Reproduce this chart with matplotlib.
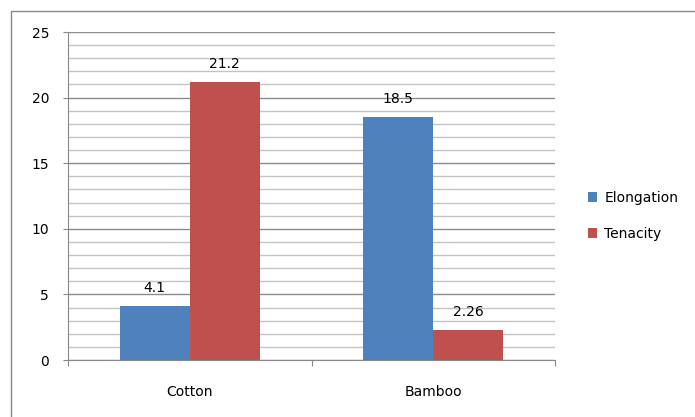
import matplotlib.pyplot as plt
import numpy as np
from matplotlib.patches import Rectangle
from matplotlib.ticker import MultipleLocator, FixedLocator

categories = ['Cotton', 'Bamboo']
series_names = ['Elongation', 'Tenacity']
elongation = [4.1, 18.5]
tenacity = [21.2, 2.26]
labels_elong = ['4.1', '18.5']
labels_ten = ['21.2', '2.26']

blue = '#4F81BD'
red = '#C0504D'
fs = 10

fig = plt.figure(figsize=(6.95, 4.17), dpi=100)
ax = fig.add_axes([68/695, 1-360/417, (555-68)/695, (360-32)/417])

# outer chart border
fig.patches.append(Rectangle((11/695, -0.1), 1.0, 1.0 + 0.1 - 11/417, transform=fig.transFigure,
                             fill=False, edgecolor='#888888', linewidth=1.0))

x = np.arange(len(categories))
w = 0.287
b1 = ax.bar(x - w/2, elongation, w, color=blue, label=series_names[0], zorder=3)
b2 = ax.bar(x + w/2, tenacity, w, color=red, label=series_names[1], zorder=3)
ax.bar_label(b1, labels=labels_elong, padding=8, fontsize=fs)
ax.bar_label(b2, labels=labels_ten, padding=8, fontsize=fs)

ax.set_xlim(-0.5, 1.5)
ax.set_ylim(0, 25)
ax.yaxis.set_major_locator(MultipleLocator(5))
ax.yaxis.set_minor_locator(MultipleLocator(1))
ax.grid(axis='y', which='major', color='#8c8c8c', linewidth=1.0, zorder=0)
ax.grid(axis='y', which='minor', color='#c4c4c4', linewidth=1.0, zorder=0)
ax.set_axisbelow(True)

ax.xaxis.set_major_locator(FixedLocator([-0.5, 0.5, 1.5]))
ax.xaxis.set_major_formatter(plt.NullFormatter())
ax.xaxis.set_minor_locator(FixedLocator(x))
ax.set_xticklabels(categories, minor=True)
ax.tick_params(axis='x', which='minor', length=0, pad=18, labelsize=fs)
ax.tick_params(axis='x', which='major', length=4, color='#888888')
ax.tick_params(axis='y', which='major', length=3.6, pad=10, color='#888888', labelsize=fs)
ax.tick_params(axis='y', which='minor', length=0)

for s in ['top', 'right']:
    ax.spines[s].set_visible(False)
for s in ['left', 'bottom']:
    ax.spines[s].set_color('#888888')

fig.legend(handles=[b1, b2], labels=series_names, loc='center left',
           bbox_to_anchor=(575/695, 1-216/417), frameon=False, fontsize=fs,
           handlelength=0.7, handleheight=0.7, handletextpad=0.5, labelspacing=1.6)

fig.savefig('out.png', dpi=100)
